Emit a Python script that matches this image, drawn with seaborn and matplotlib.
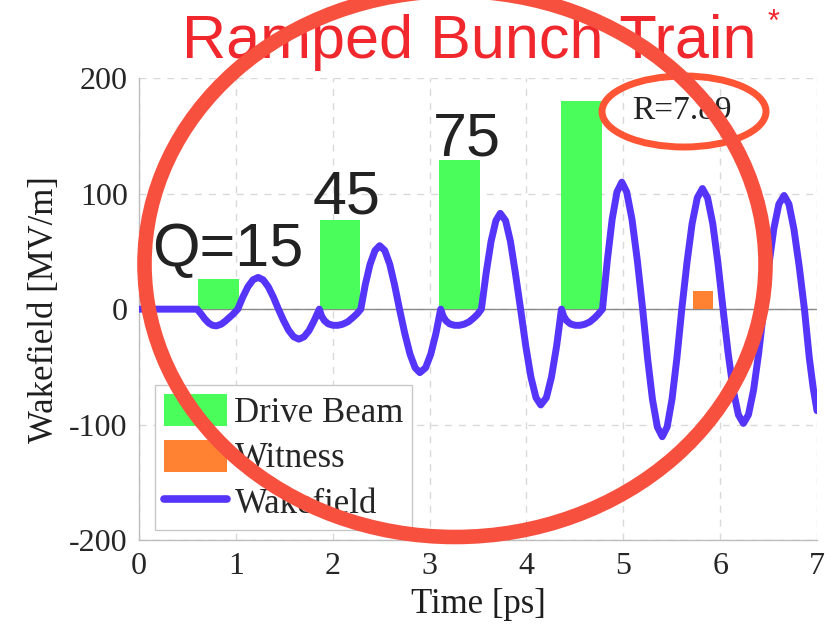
import numpy as np
import pandas as pd
import matplotlib
matplotlib.use("Agg")
import matplotlib.pyplot as plt
import seaborn as sns
from matplotlib.patches import Patch, Ellipse
from matplotlib.lines import Line2D

# ---------------- data ----------------
drive_center_ps = [0.82, 2.075, 3.312, 4.57]
drive_field = [25.8, 77.4, 129.0, 180.6]
witness_center_ps = [5.826]
witness_field = [16.0]

charge_labels = ["Q=15", "45", "75"]
charge_label_x = [0.14, 1.79, 3.03]
charge_label_y = [37.5, 82.9, 133.3]

ratio_label = "R=7.89"

wake_t = [0.00, 0.60, 0.64, 0.68, 0.72, 0.76, 0.80, 0.85, 0.89, 0.93, 0.97, 1.02,
          1.0725, 1.125, 1.1775, 1.23, 1.2825, 1.335, 1.3875, 1.44,
          1.493, 1.546, 1.598, 1.651, 1.704, 1.757, 1.809, 1.862,
          1.885, 1.915, 1.955, 2.005, 2.055, 2.105, 2.155, 2.205, 2.25, 2.29,
          2.336, 2.386, 2.437, 2.485, 2.538, 2.589, 2.639, 2.69,
          2.744, 2.798, 2.851, 2.900, 2.959, 3.013, 3.066, 3.115,
          3.138, 3.168, 3.208, 3.258, 3.308, 3.358, 3.408, 3.458, 3.50, 3.535,
          3.585, 3.635, 3.685, 3.73, 3.785, 3.835, 3.885, 3.94,
          3.993, 4.046, 4.099, 4.148, 4.206, 4.259, 4.312, 4.362,
          4.385, 4.415, 4.455, 4.505, 4.555, 4.605, 4.655, 4.705, 4.745, 4.785,
          4.835, 4.885, 4.935, 4.985, 5.035, 5.09, 5.145, 5.20,
          5.2505, 5.301, 5.3515, 5.402, 5.4525, 5.503, 5.5535, 5.604,
          5.657, 5.710, 5.764, 5.817, 5.870, 5.924, 5.977, 6.03,
          6.082, 6.135, 6.188, 6.24, 6.292, 6.345, 6.398, 6.45,
          6.502, 6.554, 6.606, 6.66, 6.71, 6.761, 6.815, 6.87,
          6.92, 6.96, 7.00]
wake_v = [0.0, 0.0, -4.0, -8.5, -12.0, -14.0, -14.5, -13.0, -10.5, -7.5, -4.5, 0.0,
          10.5, 19.4, 25.4, 27.5, 25.4, 19.4, 10.5, 0.0,
          -9.9, -18.4, -24.0, -26.0, -24.0, -18.4, -9.9, 0.0,
          -6.0, -10.0, -12.8, -14.0, -14.0, -13.0, -11.0, -7.5, -4.0, 0.0,
          21.0, 38.9, 50.8, 55.0, 50.8, 38.9, 21.0, 0.0,
          -21.0, -38.9, -50.8, -55.0, -50.8, -38.9, -21.0, 0.0,
          -6.0, -10.0, -12.8, -14.0, -14.0, -13.0, -11.0, -7.5, -4.0, 0.0,
          31.8, 58.7, 76.7, 83.0, 76.7, 58.7, 31.8, 0.0,
          -31.8, -58.7, -76.7, -83.0, -76.7, -58.7, -31.8, 0.0,
          -6.0, -10.0, -12.8, -14.0, -14.0, -13.0, -11.0, -7.5, -4.0, 0.0,
          42.1, 77.8, 101.6, 110.0, 101.6, 77.8, 42.1, 0.0,
          -42.3, -78.1, -102.1, -110.5, -102.1, -78.1, -42.3, 0.0,
          40.0, 73.9, 96.5, 104.5, 96.5, 73.9, 40.0, 0.0,
          -37.9, -70.0, -91.5, -99.0, -91.5, -70.0, -37.9, 0.0,
          37.7, 69.6, 91.0, 98.5, 91.0, 69.6, 37.7, 0.0,
          -42.0, -68.0, -88.0]

x_ticks = [0, 1, 2, 3, 4, 5, 6, 7]
y_ticks = [-200, -100, 0, 100, 200]
legend_labels = ["Drive Beam", "Witness", "Wakefield"]

# ---------------- styling ----------------
GREEN = "#4BFD5B"
ORANGE = "#FF8232"
BLUE = "#5535FA"
RED_TITLE = "#F0282D"
RED_MARK = "#F8503F"
SERIF = ["Liberation Serif", "DejaVu Serif"]
SANS = ["Liberation Sans", "DejaVu Sans"]

sns.set_theme(style="white")
plt.rcParams["font.family"] = SERIF

fig = plt.figure(figsize=(8.32, 6.29), dpi=100)
ax = fig.add_axes([0.167, 0.1415, 0.8150, 0.734])

ax.grid(True, linestyle=(0, (5, 5)), color="#D9D9D9", linewidth=1.0)
ax.set_axisbelow(True)
ax.axhline(0, color="#8A8A8A", linewidth=1.0, zorder=1)

drive_df = pd.DataFrame({"t": drive_center_ps, "field": drive_field})
witness_df = pd.DataFrame({"t": witness_center_ps, "field": witness_field})
wake_df = pd.DataFrame({"t": wake_t, "field": wake_v})

drive_w = 0.42
wit_w = 0.21
sns.barplot(data=drive_df, x="t", y="field", native_scale=True,
            width=drive_w / np.min(np.diff(drive_center_ps)),
            color=GREEN, saturation=1, errorbar=None,
            linewidth=0, edgecolor="none", ax=ax, zorder=2)
sns.barplot(data=witness_df, x="t", y="field", native_scale=True,
            width=wit_w, color=ORANGE, saturation=1, errorbar=None,
            linewidth=0, edgecolor="none", ax=ax, zorder=2)
sns.lineplot(data=wake_df, x="t", y="field", sort=False, estimator=None,
             color=BLUE, linewidth=5.0, ax=ax, zorder=3,
             solid_joinstyle="round", solid_capstyle="round")

ax.set_xlim(0, 7)
ax.set_ylim(-200, 200)
ax.set_xticks(x_ticks)
ax.set_yticks(y_ticks)
ax.set_xticklabels([str(v) for v in x_ticks])
ax.set_yticklabels([str(v) for v in y_ticks])
ax.tick_params(axis="both", labelsize=23, labelcolor="#262626", length=0)
ax.tick_params(axis="y", pad=8)
ax.tick_params(axis="x", pad=9)
for s in ["top", "right"]:
    ax.spines[s].set_visible(False)
for s in ["left", "bottom"]:
    ax.spines[s].set_color("#BDBDBD")
    ax.spines[s].set_linewidth(1.0)

ax.set_xlabel("Time [ps]", fontsize=25, color="#1E1E1E", labelpad=5)
ax.set_ylabel("Wakefield [MV/m]", fontsize=25, color="#1E1E1E", labelpad=6)

for lab, lx, ly in zip(charge_labels, charge_label_x, charge_label_y):
    ax.text(lx, ly, lab, family=SANS, fontsize=44, color="#222222",
            ha="left", va="baseline", zorder=5)
ax.text(5.095, 165, ratio_label, family=SERIF, fontsize=24, color="#222222",
        ha="left", va="baseline", zorder=5)

handles = [Patch(facecolor=GREEN, edgecolor="none"),
           Patch(facecolor=ORANGE, edgecolor="none"),
           Line2D([0], [0], color=BLUE, linewidth=5.5)]
leg = ax.legend(handles, legend_labels, loc="lower left",
                bbox_to_anchor=(0.024, 0.022), borderaxespad=0,
                fontsize=25, frameon=True, fancybox=False,
                handlelength=1.83, handleheight=1.05, handletextpad=0.2,
                labelspacing=0.28, borderpad=0.25)
leg.get_frame().set_edgecolor("#C8C8C8")
leg.get_frame().set_linewidth(1.0)
leg.get_frame().set_facecolor("white")
leg.get_frame().set_alpha(1)
leg.set_zorder(6)

fig.text(0.5637, 0.9078, "Ramped Bunch Train", family=SANS, fontsize=44,
         color=RED_TITLE, ha="center", va="baseline")
fig.text(0.930, 1 - 8 / 629, "*", family=SANS, fontsize=22,
         color=RED_TITLE, ha="center", va="top")

fig.add_artist(Ellipse((684 / 832, 1 - 111.5 / 629), 164 / 832, 71 / 629,
                       transform=fig.transFigure, fill=False,
                       edgecolor="#FF5535", linewidth=5, zorder=10))
fig.add_artist(Ellipse((455 / 832, 1 - 264 / 629), 621 / 832, 546 / 629,
                       transform=fig.transFigure, fill=False,
                       edgecolor=RED_MARK, linewidth=10.5, zorder=11))

fig.savefig("out.png", dpi=100)
